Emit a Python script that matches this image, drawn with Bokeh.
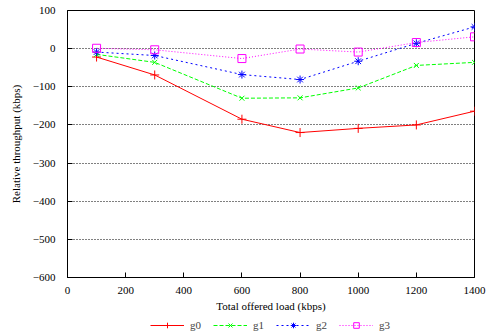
from bokeh.plotting import figure
from bokeh.layouts import column
from bokeh.models import Range1d, SingleIntervalTicker, Legend, LegendItem
from bokeh.embed import file_html
from bokeh.resources import INLINE

load = [100, 300, 600, 800, 1000, 1200, 1400]
g0 = [-22, -69, -185, -220, -209, -200, -164]
g1 = [-15, -36, -130, -129, -103, -44, -36]
g2 = [-9, -18, -68, -81, -33, 14, 57]
g3 = [1, -3, -26, -1, -9, 16, 31]
names = ["g0", "g1", "g2", "g3"]

FONT = "Liberation Serif"

main = figure(width=491, height=314, output_backend="svg", toolbar_location=None,
              x_range=Range1d(0, 1400), y_range=Range1d(-600, 100))
main.min_border_left = 67
main.min_border_right = 17
main.min_border_top = 10
main.min_border_bottom = 35
main.outline_line_color = "black"
main.outline_line_width = 1
main.background_fill_color = "white"
main.border_fill_color = "white"

main.xaxis.ticker = SingleIntervalTicker(interval=200)
main.yaxis.ticker = SingleIntervalTicker(interval=100)
for ax in (main.xaxis[0], main.yaxis[0]):
    ax.major_label_text_font = FONT
    ax.major_label_text_font_size = "11px"
    ax.major_label_text_color = "black"
    ax.axis_label_text_font = FONT
    ax.axis_label_text_font_size = "11px"
    ax.axis_label_text_font_style = "normal"
    ax.axis_label_text_color = "black"
    ax.axis_line_color = "black"
    ax.major_tick_in = 5
    ax.major_tick_out = 0
    ax.minor_tick_line_color = None
    ax.major_tick_line_color = "black"
main.xaxis.axis_label = "Total offered load (kbps)"
main.yaxis.axis_label = "Relative throughput (kbps)"
main.xaxis.major_label_standoff = 5
main.xaxis.axis_label_standoff = 3
main.yaxis.major_label_standoff = 8
main.yaxis.axis_label_standoff = 8

main.xgrid.visible = False
main.ygrid.grid_line_color = "black"
main.ygrid.grid_line_dash = "1 2"
main.ygrid.grid_line_width = 1

styles = [
    ("#ff0000", "solid", "cross", 9),
    ("#00ff00", "4 2", "x", 7),
    ("#0000ff", "2 3", "asterisk", 8),
    ("#ff00ff", "1 2", "square", 8),
]
series = [g0, g1, g2, g3]
for vals, (col, dash, mk, sz) in zip(series, styles):
    main.line(load, vals, line_color=col, line_dash=dash, line_width=1)
    main.scatter(load, vals, marker=mk, size=sz, line_color=col,
                 fill_color=None, line_width=1)

# legend strip below the plot (its renderers fall outside its own view)
leg = figure(width=491, height=21, output_backend="svg", toolbar_location=None,
             x_range=Range1d(0, 1), y_range=Range1d(1000, 1001))
leg.min_border = 0
leg.axis.visible = False
leg.grid.visible = False
leg.outline_line_color = None
leg.border_fill_color = "white"
leg.background_fill_color = "white"
items = []
for name, vals, (col, dash, mk, sz) in zip(names, series, styles):
    ln = leg.line(load, vals, line_color=col, line_dash=dash, line_width=1)
    sc = leg.scatter(load, vals, marker=mk, size=sz, line_color=col,
                     fill_color=None, line_width=1)
    items.append(LegendItem(label=name, renderers=[ln, sc]))
legend = Legend(items=items, orientation="horizontal", location=(83, 3),
                glyph_width=34, glyph_height=14, label_standoff=6, spacing=12,
                label_width=10, label_height=14, padding=0, margin=0,
                label_text_font=FONT, label_text_font_size="11px",
                border_line_color=None, background_fill_alpha=0)
leg.add_layout(legend, "center")

p = column(main, leg, spacing=0)

open("out.html", "w").write(file_html(p, INLINE))
